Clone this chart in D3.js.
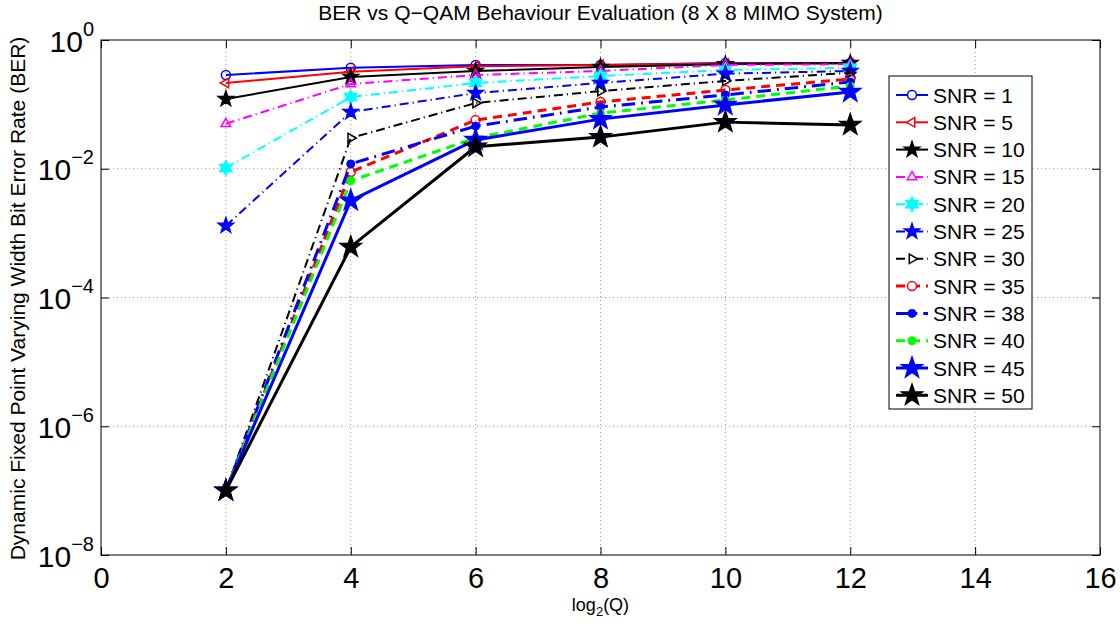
<!DOCTYPE html>
<html>
<head>
<meta charset="utf-8">
<script src="https://cdn.jsdelivr.net/npm/d3@7"></script>
<style>
  body { margin: 0; background: #fff; }
  text { font-family: "Liberation Sans", Arial, Helvetica, sans-serif; fill: #000; }
</style>
</head>
<body>
<svg id="chart" width="1120" height="626"></svg>
<script>
// x values (log2 Q) and the SNR of each curve
var qBits = [2, 4, 6, 8, 10, 12];
var snrList = [1, 5, 10, 15, 20, 25, 30, 35, 38, 40, 45, 50];

// BER, one array per SNR
var ber1  = [0.286, 0.37, 0.41, 0.41, 0.44, 0.44];
var ber5  = [0.215, 0.32, 0.39, 0.41, 0.43, 0.43];
var ber10 = [0.121, 0.266, 0.33, 0.38, 0.42, 0.44];
var ber15 = [0.050, 0.207, 0.286, 0.33, 0.41, 0.42];
var ber20 = [0.0103, 0.130, 0.215, 0.276, 0.342, 0.37];
var ber25 = [0.0013, 0.076, 0.150, 0.215, 0.30, 0.33];
var ber30 = [1e-7, 0.030, 0.105, 0.161, 0.231, 0.31];
var ber35 = [1e-7, 0.0089, 0.057, 0.109, 0.167, 0.248];
var ber38 = [1e-7, 0.0119, 0.046, 0.091, 0.14, 0.223];
var ber40 = [1e-7, 0.0065, 0.030, 0.073, 0.117, 0.193];
var ber45 = [1e-7, 0.0032, 0.028, 0.059, 0.098, 0.156];
var ber50 = [1e-7, 0.00061, 0.022, 0.031, 0.053, 0.048];

var xTicks = [0, 2, 4, 6, 8, 10, 12, 14, 16];
var yTicks = [1e-8, 1e-6, 1e-4, 1e-2, 1];

var berAll = [ber1, ber5, ber10, ber15, ber20, ber25, ber30, ber35, ber38, ber40, ber45, ber50];

// line look for each curve (MATLAB style)
var styles = [
    { color: "#0000ff", dash: null,       width: 2,   marker: "circle",   fill: false, size: 4.5 },
    { color: "#ff0000", dash: null,       width: 2,   marker: "triLeft",  fill: false, size: 5.5 },
    { color: "#000000", dash: null,       width: 2,   marker: "star",     fill: true,  size: 8 },
    { color: "#ff00ff", dash: "dashdot",  width: 2,   marker: "triUp",    fill: false, size: 5.5 },
    { color: "#00ffff", dash: "dashdot",  width: 2,   marker: "hexagram", fill: true,  size: 7 },
    { color: "#0000ff", dash: "dashdot",  width: 2,   marker: "star",     fill: true,  size: 8 },
    { color: "#000000", dash: "dashdot",  width: 2,   marker: "triRight", fill: false, size: 5.5 },
    { color: "#ff0000", dash: "dashed",   width: 3,   marker: "circle",   fill: false, size: 4.5 },
    { color: "#0000ff", dash: "dashdot",  width: 3,   marker: "dot",      fill: true,  size: 4 },
    { color: "#00ff00", dash: "dashed",   width: 3,   marker: "dot",      fill: true,  size: 4 },
    { color: "#0000ff", dash: null,       width: 3,   marker: "star",     fill: true,  size: 11 },
    { color: "#000000", dash: null,       width: 3,   marker: "star",     fill: true,  size: 11 }
];

var width = 1120, height = 626;
var margin = { left: 101, right: 20, top: 40, bottom: 71 };

var svg = d3.select("#chart");

var x = d3.scaleLinear().domain([0, 16]).range([margin.left, width - margin.right]);
var y = d3.scaleLog().domain([1e-8, 1]).range([height - margin.bottom, margin.top]);

var x0 = x.range()[0], x1 = x.range()[1];
var y0 = y.range()[0], y1 = y.range()[1];

// grid
var grid = svg.append("g").attr("class", "grid");
grid.selectAll(".gx").data(xTicks.slice(1, -1)).enter().append("line")
    .attr("x1", d => x(d)).attr("x2", d => x(d))
    .attr("y1", y1).attr("y2", y0)
    .attr("stroke", "#999").attr("stroke-width", 1).attr("stroke-dasharray", "1,3");
grid.selectAll(".gy").data(yTicks.slice(1, -1)).enter().append("line")
    .attr("x1", x0).attr("x2", x1)
    .attr("y1", d => y(d)).attr("y2", d => y(d))
    .attr("stroke", "#999").attr("stroke-width", 1).attr("stroke-dasharray", "1,3");

// axes with inward ticks
var xAxis = d3.axisBottom(x).tickValues(xTicks).tickSizeInner(-8).tickSizeOuter(0).tickPadding(12).tickFormat(d3.format("d"));
var gx = svg.append("g").attr("transform", "translate(0," + y0 + ")").call(xAxis);
gx.selectAll("text").style("font-size", "29px").attr("dy", "0.71em");

svg.append("g").attr("transform", "translate(0," + y1 + ")")
    .call(d3.axisTop(x).tickValues(xTicks).tickSizeInner(-8).tickSizeOuter(0).tickFormat(""));

var yAxis = d3.axisLeft(y).tickValues(yTicks).tickSizeInner(-8).tickSizeOuter(0).tickFormat("");
var gy = svg.append("g").attr("transform", "translate(" + x0 + ",0)").call(yAxis);
gy.selectAll(".tick").append("text")
    .attr("x", -7).attr("y", 11).attr("text-anchor", "end")
    .each(function(d) {
        var e = Math.round(Math.log10(d));
        var t = d3.select(this);
        t.append("tspan").style("font-size", "30px").text("10");
        t.append("tspan").style("font-size", "20px").attr("dy", "-0.8em")
            .text(e === 0 ? "0" : "\u2212" + Math.abs(e));
    });

svg.append("g").attr("transform", "translate(" + x1 + ",0)")
    .call(d3.axisRight(y).tickValues(yTicks).tickSizeInner(-8).tickSizeOuter(0).tickFormat(""));

svg.selectAll(".domain").remove();
svg.selectAll(".tick line").attr("stroke", "#000");

svg.append("rect")
    .attr("x", x0).attr("y", y1).attr("width", x1 - x0).attr("height", y0 - y1)
    .attr("fill", "none").attr("stroke", "#000").attr("stroke-width", 1);

// marker shapes
function markerPath(type, r) {
    if (type === "circle" || type === "dot") {
        return "M" + r + ",0A" + r + "," + r + " 0 1,1 " + (-r) + ",0A" + r + "," + r + " 0 1,1 " + r + ",0Z";
    }
    if (type === "star") {
        var p = [];
        for (var i = 0; i < 10; i++) {
            var a = -Math.PI / 2 + i * Math.PI / 5;
            var rr = i % 2 ? r * 0.4 : r;
            p.push([rr * Math.cos(a), rr * Math.sin(a)]);
        }
        return "M" + p.join("L") + "Z";
    }
    if (type === "hexagram") {
        var s = "";
        [ -Math.PI / 2, Math.PI / 2 ].forEach(function(start) {
            var q = [];
            for (var k = 0; k < 3; k++) {
                var ang = start + k * 2 * Math.PI / 3;
                q.push([r * Math.cos(ang), r * Math.sin(ang)]);
            }
            s += "M" + q.join("L") + "Z";
        });
        return s;
    }
    var rot = { triUp: -Math.PI / 2, triLeft: Math.PI, triRight: 0 }[type];
    var pts = [];
    for (var j = 0; j < 3; j++) {
        var an = rot + j * 2 * Math.PI / 3;
        pts.push([r * Math.cos(an), r * Math.sin(an)]);
    }
    return "M" + pts.join("L") + "Z";
}

function dashFor(st) {
    var w = st.width;
    if (st.dash === "dashdot") return [4.5 * w, 2 * w, 0.6 * w, 2 * w].join(",");
    if (st.dash === "dashed") return [3 * w, 2 * w].join(",");
    return null;
}

var line = d3.line().x(d => x(d[0])).y(d => y(d[1]));

var plot = svg.append("g").attr("class", "plot");
berAll.forEach(function(vals, i) {
    var st = styles[i];
    var pts = qBits.map((q, k) => [q, vals[k]]);
    var g = plot.append("g");
    g.append("path").datum(pts)
        .attr("d", line)
        .attr("fill", "none")
        .attr("stroke", st.color)
        .attr("stroke-width", st.width)
        .attr("stroke-dasharray", dashFor(st))
        .attr("stroke-linejoin", "round");
    g.selectAll("path.mk").data(pts).enter().append("path")
        .attr("class", "mk")
        .attr("transform", d => "translate(" + x(d[0]) + "," + y(d[1]) + ")")
        .attr("d", markerPath(st.marker, st.size))
        .attr("fill", st.fill ? st.color : "none")
        .attr("stroke", st.color)
        .attr("stroke-width", st.marker === "dot" ? 1 : 1.5);
});

// title and axis labels
svg.append("text")
    .attr("x", (x0 + x1) / 2).attr("y", 20)
    .attr("text-anchor", "middle").style("font-size", "21px")
    .text("BER vs Q\u2212QAM Behaviour Evaluation (8 X 8 MIMO System)");

var xl = svg.append("text")
    .attr("x", (x0 + x1) / 2).attr("y", 611)
    .attr("text-anchor", "middle").style("font-size", "18px");
xl.append("tspan").text("log");
xl.append("tspan").attr("dy", 5).style("font-size", "13px").text("2");
xl.append("tspan").attr("dy", -5).text("(Q)");

svg.append("text")
    .attr("transform", "translate(25," + ((y0 + y1) / 2 + 1) + ") rotate(-90)")
    .attr("text-anchor", "middle").style("font-size", "21px")
    .text("Dynamic Fixed Point Varying Width Bit Error Rate (BER)");

// legend
var lx = 889, ly = 76, rowH = 27.3;
var legend = svg.append("g");
legend.append("rect")
    .attr("x", lx).attr("y", ly).attr("width", 143).attr("height", 333)
    .attr("fill", "#fff").attr("stroke", "#000").attr("stroke-width", 1);
var rows = legend.selectAll("g.row").data(snrList).enter().append("g")
    .attr("transform", (d, i) => "translate(" + lx + "," + (ly + 19 + i * rowH) + ")");
rows.append("line")
    .attr("x1", 7).attr("x2", 39).attr("y1", 0).attr("y2", 0)
    .attr("stroke", (d, i) => styles[i].color)
    .attr("stroke-width", (d, i) => styles[i].width)
    .attr("stroke-dasharray", (d, i) => dashFor(styles[i]));
rows.append("path")
    .attr("transform", "translate(23,0)")
    .attr("d", (d, i) => markerPath(styles[i].marker, styles[i].size))
    .attr("fill", (d, i) => styles[i].fill ? styles[i].color : "#fff")
    .attr("stroke", (d, i) => styles[i].color)
    .attr("stroke-width", (d, i) => styles[i].marker === "dot" ? 1 : 1.5);
rows.append("text")
    .attr("x", 44).attr("dy", "0.36em").style("font-size", "21px")
    .text(d => "SNR = " + d);
</script>
</body>
</html>
